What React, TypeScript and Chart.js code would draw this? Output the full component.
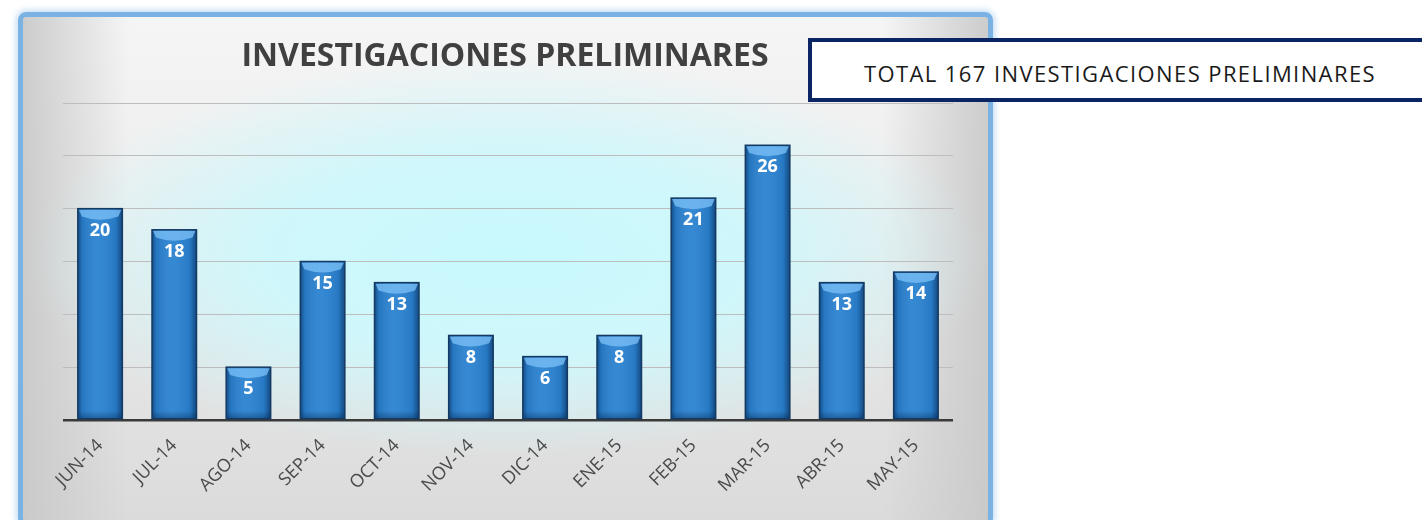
import React, { useEffect, useRef } from "react";
import { Chart, registerables } from "chart.js";

Chart.register(...registerables);

const categories = ["JUN-14", "JUL-14", "AGO-14", "SEP-14", "OCT-14", "NOV-14", "DIC-14", "ENE-15", "FEB-15", "MAR-15", "ABR-15", "MAY-15"];
const values = [20, 18, 5, 15, 13, 8, 6, 8, 21, 26, 13, 14];
const yMax = 30;
const yStep = 5;
const chartTitle = "INVESTIGACIONES PRELIMINARES";
const totalLabel = "TOTAL 167 INVESTIGACIONES PRELIMINARES";

const barDecor = {
  id: "barDecor",
  afterDatasetsDraw(chart: any) {
    const ctx = chart.ctx;
    const meta = chart.getDatasetMeta(0);
    const data = chart.data.datasets[0].data;
    meta.data.forEach((bar: any, i: number) => {
      const { x, y, base, width } = bar.getProps(["x", "y", "base", "width"], true);
      const l = x - width / 2;
      const r = x + width / 2;
      const h = base - y;
      ctx.save();
      const g = ctx.createLinearGradient(l, 0, r, 0);
      g.addColorStop(0, "rgba(5,35,75,0.55)");
      g.addColorStop(0.1, "rgba(5,35,75,0.12)");
      g.addColorStop(0.45, "rgba(255,255,255,0.05)");
      g.addColorStop(0.85, "rgba(5,35,75,0.1)");
      g.addColorStop(1, "rgba(5,35,75,0.6)");
      ctx.fillStyle = g;
      ctx.fillRect(l, y, width, h);
      const capH = Math.min(13, h / 2);
      ctx.beginPath();
      ctx.moveTo(l + 1, y + 1);
      ctx.lineTo(r - 1, y + 1);
      ctx.lineTo(r - 4, y + capH * 0.6);
      ctx.quadraticCurveTo(x, y + capH * 1.1, l + 4, y + capH * 0.6);
      ctx.closePath();
      ctx.fillStyle = "rgba(120,190,245,0.8)";
      ctx.fill();
      const bg = ctx.createLinearGradient(0, base - 8, 0, base);
      bg.addColorStop(0, "rgba(5,35,75,0)");
      bg.addColorStop(1, "rgba(5,35,75,0.4)");
      ctx.fillStyle = bg;
      ctx.fillRect(l, base - 8, width, 8);
      ctx.strokeStyle = "#143a63";
      ctx.lineWidth = 1.5;
      ctx.strokeRect(l, y, width, h);
      ctx.fillStyle = "#ffffff";
      ctx.font = "bold 18px 'Open Sans', sans-serif";
      ctx.textAlign = "center";
      ctx.textBaseline = "middle";
      ctx.fillText(String(data[i]), x, y + 22);
      ctx.restore();
    });
  },
};

export default function App() {
  const canvasRef = useRef<HTMLCanvasElement | null>(null);

  useEffect(() => {
    if (!canvasRef.current) return;
    const chart = new Chart(canvasRef.current, {
      type: "bar",
      data: {
        labels: categories,
        datasets: [
          {
            data: values,
            backgroundColor: "#2a82d0",
            borderWidth: 0,
            barPercentage: 0.6,
            categoryPercentage: 1,
          },
        ],
      },
      options: {
        animation: false,
        responsive: false,
        events: [],
        layout: { padding: { left: 63, right: 47, top: 103, bottom: 0 } },
        plugins: {
          legend: { display: false },
          title: { display: false },
          tooltip: { enabled: false },
        },
        scales: {
          x: {
            grid: { display: false },
            border: { display: false },
            ticks: {
              color: "#4a4a4a",
              font: { family: "'Open Sans', sans-serif", size: 18 },
              minRotation: 45,
              maxRotation: 45,
              padding: 7,
              autoSkip: false,
            },
            afterFit: (scale: any) => {
              scale.height = 100;
            },
          },
          y: {
            min: 0,
            max: yMax,
            ticks: { display: false, stepSize: yStep },
            border: { display: false },
            grid: {
              drawTicks: false,
              color: (c: any) => (c.tick && c.tick.value === 0 ? "#3a3a3a" : "#bdbdbd"),
              lineWidth: (c: any) => (c.tick && c.tick.value === 0 ? 2.5 : 1),
            },
            afterFit: (scale: any) => {
              scale.width = 0;
            },
          },
        },
      },
      plugins: [barDecor],
    });
    return () => chart.destroy();
  }, []);

  return (
    <div style={{ position: "fixed", left: 0, top: 0, width: 1422, height: 520, overflow: "hidden", background: "#ffffff" }}>
      <div
        style={{
          position: "absolute",
          left: 18,
          top: 12,
          width: 975,
          height: 514,
          boxSizing: "border-box",
          border: "5px solid #7ab2e3",
          borderRadius: 8,
          boxShadow: "0 0 6px 2px rgba(170,205,238,0.7)",
          background:
            "radial-gradient(ellipse 480px 200px at 485px 240px, rgba(200,249,253,1) 0%, rgba(206,248,252,0.95) 50%, rgba(222,244,247,0) 100%)," +
            "linear-gradient(to right, rgba(200,200,200,0.9) 0%, rgba(230,230,230,0) 11%, rgba(230,230,230,0) 89%, rgba(200,200,200,0.9) 100%)," +
            "linear-gradient(to bottom, #f5f5f5 0%, #eeeeee 35%, #dbdbdb 100%)",
        }}
      />
      <canvas ref={canvasRef} width={1000} height={520} style={{ position: "absolute", left: 0, top: 0, width: 1000, height: 520 }} />
      <div
        style={{
          position: "absolute",
          left: 0,
          top: 32,
          width: 1010,
          textAlign: "center",
          fontFamily: "'Open Sans', sans-serif",
          fontWeight: 700,
          fontSize: 32,
          lineHeight: "44px",
          color: "#404040",
        }}
      >
        {chartTitle}
      </div>
      <div
        style={{
          position: "absolute",
          left: 808,
          top: 38,
          width: 620,
          height: 64,
          boxSizing: "border-box",
          border: "4px solid #0b2463",
          background: "#ffffff",
          display: "flex",
          alignItems: "center",
          justifyContent: "center",
          paddingLeft: 4,
          paddingTop: 5,
          fontFamily: "'Open Sans', sans-serif",
          fontSize: 22,
          letterSpacing: 1.4,
          color: "#1a1a1a",
        }}
      >
        {totalLabel}
      </div>
    </div>
  );
}
